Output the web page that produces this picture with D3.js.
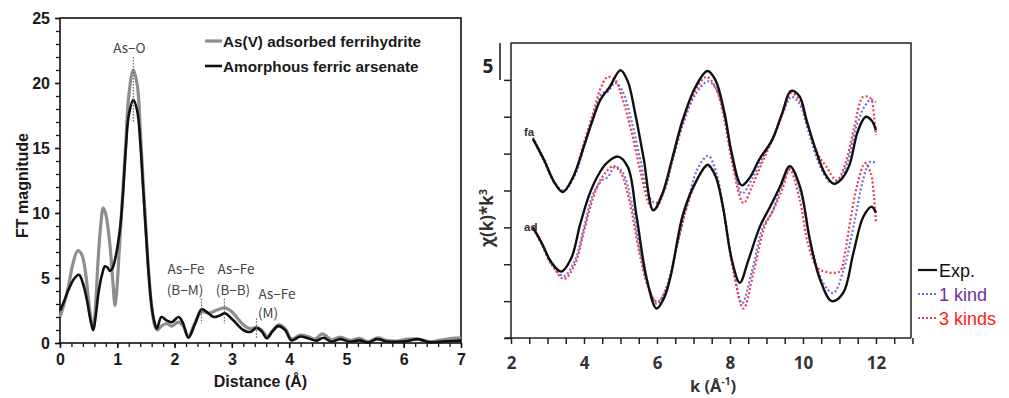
<!DOCTYPE html>
<html>
<head>
<meta charset="utf-8">
<script src="https://cdn.jsdelivr.net/npm/d3@7"></script>
<style>
  html, body { margin: 0; padding: 0; background: #fff; }
  svg { display: block; }
  text { font-family: "Liberation Sans", Arial, sans-serif; }
</style>
</head>
<body>
<svg id="fig" width="1009" height="398"></svg>
<script>
// ---------- Left panel: FT magnitude vs distance ----------
const ftTicksX = [0, 1, 2, 3, 4, 5, 6, 7];
const ftTicksY = [0, 5, 10, 15, 20, 25];
const ftLegend = ["As(V) adsorbed ferrihydrite", "Amorphous ferric arsenate"];

// [distance (Å), FT magnitude]
const ftAdsorbed = [[0,2.0],[0.07,3.0],[0.145,4.3],[0.22,6.0],[0.31,7.1],[0.38,6.8],[0.44,5.6],[0.52,2.5],[0.58,1.0],[0.62,2.8],[0.66,6.0],[0.71,9.0],[0.755,10.4],[0.8,9.9],[0.87,7.6],[0.93,4.3],[0.96,2.9],[0.99,4.0],[1.03,6.8],[1.08,10.5],[1.15,15.5],[1.2,19.0],[1.28,21.0],[1.35,19.8],[1.4,16.5],[1.45,12.5],[1.5,8.8],[1.55,5.3],[1.6,2.8],[1.65,1.4],[1.7,1.0],[1.77,1.3],[1.86,1.5],[1.95,1.3],[2.07,1.6],[2.15,1.3],[2.24,0.5],[2.36,1.6],[2.47,2.4],[2.6,2.3],[2.75,2.55],[2.88,2.7],[3.0,2.4],[3.08,2.0],[3.2,1.4],[3.32,1.1],[3.43,1.2],[3.52,1.0],[3.62,0.5],[3.72,1.0],[3.82,1.4],[3.93,1.1],[4.04,0.3],[4.19,0.6],[4.33,0.5],[4.45,0.3],[4.58,0.7],[4.74,0.25],[4.89,0.45],[5.06,0.2],[5.23,0.35],[5.38,0.1],[5.55,0.4],[5.7,0.2],[5.88,0.15],[6.07,0.3],[6.25,0.3],[6.45,0.1],[6.62,0.2],[6.85,0.35],[7.0,0.4]];
const ftArsenate = [[0,2.5],[0.07,3.2],[0.145,4.05],[0.24,4.9],[0.33,5.25],[0.4,4.6],[0.47,3.3],[0.53,1.8],[0.58,1.0],[0.63,2.3],[0.67,3.8],[0.73,5.2],[0.785,5.9],[0.83,5.8],[0.87,5.55],[0.91,5.7],[0.96,6.4],[1.05,8.9],[1.1,11.5],[1.15,15.0],[1.2,17.5],[1.28,18.7],[1.35,17.8],[1.4,15.5],[1.45,12.0],[1.5,8.5],[1.55,5.2],[1.6,2.8],[1.65,1.6],[1.69,1.1],[1.77,2.0],[1.86,1.74],[1.95,1.6],[2.07,2.0],[2.15,1.5],[2.24,0.4],[2.36,1.5],[2.47,2.6],[2.56,2.4],[2.68,2.0],[2.78,2.1],[2.88,2.28],[3.02,1.77],[3.2,1.0],[3.32,0.85],[3.43,1.15],[3.52,0.9],[3.61,0.36],[3.71,0.9],[3.81,1.3],[3.93,1.0],[4.04,0.2],[4.19,0.5],[4.33,0.36],[4.48,0.18],[4.6,0.4],[4.74,0.1],[4.89,0.3],[5.06,0.1],[5.23,0.2],[5.38,0.03],[5.53,0.3],[5.7,0.12],[5.88,0.1],[6.07,0.15],[6.25,0.3],[6.45,0.05],[6.62,0.1],[6.85,0.15],[7.0,0.2]];

// shell assignments: [distance, top, bottom, label line 1, label line 2]
const ftShells = [
  [1.28, 22, 17, "As\u2212O", ""],
  [2.47, 3.4, 1.5, "As\u2212Fe", "(B\u2212M)"],
  [2.87, 3.4, 1.5, "As\u2212Fe", "(B\u2212B)"],
  [3.43, 1.9, 0.4, "As\u2212Fe", "(M)"]
];

// ---------- Right panel: k^3-weighted EXAFS ----------
const kTicks = [2, 4, 6, 8, 10, 12];
const chiTicks = [0, 5, 10, 15, 20, 25, 30, 35];
const kLegend = ["Exp.", "1 kind", "3 kinds"];

// [k (Å^-1), chi(k)*k^3 with vertical offset]
const faExp = [[2.6,27.0],[2.9,24.2],[3.2,21.0],[3.42,19.8],[3.7,21.8],[4.0,26.0],[4.2,29.0],[4.45,32.3],[4.7,34.0],[5.0,36.3],[5.2,34.8],[5.4,30.5],[5.63,24.5],[5.9,17.3],[6.15,19.6],[6.4,24.0],[6.7,29.5],[7.05,34.0],[7.38,36.2],[7.6,35.0],[7.85,30.5],[8.05,25.0],[8.32,20.7],[8.55,21.8],[8.8,24.2],[9.15,26.8],[9.43,30.5],[9.67,33.5],[9.9,32.8],[10.1,29.5],[10.35,25.5],[10.6,22.3],[10.85,20.9],[11.05,21.5],[11.27,23.4],[11.5,28.0],[11.72,30.0],[11.88,29.5],[12.0,28.2]];
const faOneKind = [[2.6,27.0],[2.9,24.0],[3.2,21.0],[3.45,20.0],[3.75,22.0],[4.0,26.0],[4.25,30.0],[4.5,33.2],[4.65,33.4],[4.85,34.6],[5.05,33.5],[5.3,29.5],[5.55,24.0],[5.8,19.0],[5.97,18.3],[6.2,20.0],[6.45,24.5],[6.75,29.5],[7.05,33.0],[7.4,34.8],[7.65,33.5],[7.9,29.0],[8.1,23.5],[8.33,19.6],[8.6,21.5],[8.9,24.5],[9.2,27.5],[9.45,30.5],[9.68,32.7],[9.9,31.8],[10.15,28.0],[10.45,23.5],[10.75,21.1],[10.95,21.2],[11.2,23.5],[11.45,28.5],[11.7,31.5],[11.85,32.3],[12.0,32.0]];
const faThreeKinds = [[2.6,27.2],[2.9,24.3],[3.2,21.0],[3.42,19.8],[3.7,21.8],[4.0,26.5],[4.25,30.5],[4.45,33.8],[4.65,35.4],[4.85,35.0],[5.05,32.5],[5.3,28.0],[5.55,22.5],[5.8,18.0],[5.95,17.5],[6.2,20.0],[6.45,24.8],[6.75,29.8],[7.05,33.5],[7.35,35.4],[7.6,34.0],[7.85,29.5],[8.05,24.0],[8.37,18.3],[8.6,20.5],[8.9,24.0],[9.2,27.3],[9.45,30.5],[9.66,33.2],[9.9,32.3],[10.15,28.5],[10.4,25.0],[10.63,23.3],[10.92,21.4],[11.15,23.5],[11.4,28.5],[11.65,32.7],[11.85,32.5],[11.95,30.0],[12.0,27.5]];
const adExp = [[2.6,15.0],[2.85,12.8],[3.1,10.3],[3.38,9.0],[3.65,10.8],[3.9,15.5],[4.15,19.5],[4.38,22.0],[4.62,23.7],[4.93,24.6],[5.2,23.2],[5.44,16.5],[5.72,8.0],[5.99,4.0],[6.2,5.5],[6.38,8.5],[6.72,16.9],[7.09,21.4],[7.39,23.5],[7.6,22.0],[7.8,18.0],[8.05,10.6],[8.27,7.5],[8.5,10.5],[8.82,15.1],[9.1,17.8],[9.37,20.5],[9.64,23.3],[9.92,20.5],[10.19,13.3],[10.47,7.9],[10.79,5.0],[11.1,6.1],[11.38,11.5],[11.65,16.4],[11.88,17.8],[12.0,17.0]];
const adOneKind = [[2.6,15.0],[2.85,12.6],[3.1,10.0],[3.45,8.4],[3.75,10.5],[4.0,15.0],[4.25,19.5],[4.5,21.4],[4.65,21.8],[4.85,23.2],[5.05,22.5],[5.3,18.5],[5.55,11.5],[5.8,6.5],[6.0,4.6],[6.25,6.8],[6.5,11.5],[6.8,17.5],[7.1,22.8],[7.4,24.7],[7.62,22.5],[7.85,16.5],[8.1,9.0],[8.33,4.7],[8.6,9.0],[8.9,15.0],[9.15,17.0],[9.4,20.5],[9.66,23.0],[9.95,19.5],[10.25,12.0],[10.55,7.5],[10.83,6.1],[11.1,9.0],[11.4,15.5],[11.65,21.5],[11.84,23.9],[12.0,23.7]];
const adThreeKinds = [[2.6,15.2],[2.85,12.8],[3.1,10.2],[3.45,8.0],[3.75,10.0],[4.0,14.5],[4.25,19.0],[4.5,21.8],[4.8,23.3],[5.0,22.5],[5.25,18.5],[5.5,12.0],[5.75,7.0],[6.0,4.9],[6.25,6.5],[6.5,11.5],[6.8,17.5],[7.1,21.5],[7.38,23.3],[7.6,22.0],[7.85,16.5],[8.1,9.0],[8.37,4.0],[8.65,9.0],[8.95,15.1],[9.2,17.5],[9.42,20.0],[9.64,22.8],[9.9,19.0],[10.15,12.5],[10.4,9.5],[10.6,9.0],[11.0,9.0],[11.15,11.5],[11.3,16.0],[11.5,21.0],[11.7,23.7],[11.85,22.5],[11.95,19.0],[12.0,15.6]];

const svg = d3.select("#fig");

// ================= Left panel =================
(function () {
  const L = 60, R = 461, T = 18, B = 343;
  const x = d3.scaleLinear().domain([0, 7]).range([L, R]);
  const y = d3.scaleLinear().domain([0, 25]).range([B, T]);
  const g = svg.append("g");

  // frame
  g.append("rect").attr("x", L).attr("y", T).attr("width", R - L).attr("height", B - T)
    .attr("fill", "none").attr("stroke", "#111").attr("stroke-width", 1.6);

  // minor ticks
  g.append("g").attr("transform", `translate(0,${B})`)
    .call(d3.axisBottom(x).tickValues(d3.range(0, 7.001, 0.2)).tickSize(4).tickFormat(""))
    .call(a => a.select(".domain").remove())
    .call(a => a.selectAll("line").attr("stroke", "#111").attr("stroke-width", 1.3));
  g.append("g").attr("transform", `translate(${L},0)`)
    .call(d3.axisLeft(y).tickValues(d3.range(0, 25.001, 1)).tickSize(4).tickFormat(""))
    .call(a => a.select(".domain").remove())
    .call(a => a.selectAll("line").attr("stroke", "#111").attr("stroke-width", 1.3));

  // major ticks with labels
  const tickText = a => a.selectAll("text").attr("font-size", 16).attr("font-weight", "bold")
    .attr("fill", "#1a1a1a").style("font-family", "Liberation Sans, Arial, sans-serif");
  g.append("g").attr("transform", `translate(0,${B})`)
    .call(d3.axisBottom(x).tickValues(ftTicksX).tickSize(5).tickPadding(6).tickFormat(d3.format("d")))
    .call(a => a.select(".domain").remove())
    .call(a => a.selectAll("line").attr("stroke", "#111").attr("stroke-width", 1.5))
    .call(tickText);
  g.append("g").attr("transform", `translate(${L},0)`)
    .call(d3.axisLeft(y).tickValues(ftTicksY).tickSize(5).tickPadding(5).tickFormat(d3.format("d")))
    .call(a => a.select(".domain").remove())
    .call(a => a.selectAll("line").attr("stroke", "#111").attr("stroke-width", 1.5))
    .call(tickText);

  // axis titles
  g.append("text").attr("x", x(3.5)).attr("y", 387).attr("text-anchor", "middle")
    .attr("font-size", 16).attr("font-weight", "bold").attr("fill", "#1a1a1a").text("Distance (\u00C5)");
  g.append("text").attr("transform", `translate(28,${(T + B) / 2 + 5}) rotate(-90)`)
    .attr("text-anchor", "middle").attr("font-size", 16).attr("font-weight", "bold")
    .attr("fill", "#1a1a1a").text("FT magnitude");

  // curves
  const line = d3.line().x(d => x(d[0])).y(d => y(Math.max(0, d[1])))
    .curve(d3.curveCatmullRom.alpha(0.5));
  g.append("path").datum(ftAdsorbed).attr("d", line).attr("fill", "none")
    .attr("stroke", "#8e8e8e").attr("stroke-width", 3.2).attr("stroke-linejoin", "round");
  g.append("path").datum(ftArsenate).attr("d", line).attr("fill", "none")
    .attr("stroke", "#111").attr("stroke-width", 2.6).attr("stroke-linejoin", "round");

  // shell markers
  ftShells.forEach(s => {
    g.append("line").attr("x1", x(s[0])).attr("x2", x(s[0])).attr("y1", y(s[1])).attr("y2", y(s[2]))
      .attr("stroke", "#666").attr("stroke-width", 1.2).attr("stroke-dasharray", "1.5,1.5");
  });
  const lab = (tx, ty, t) => g.append("text").attr("x", tx).attr("y", ty).attr("text-anchor", "middle")
    .attr("font-size", 13.5).attr("fill", "#444")
    .style("font-family", "'Noto Sans CJK JP', 'Noto Sans', sans-serif").text(t);
  lab(x(1.28) - 4, 53, ftShells[0][3]);
  lab(186, 274, ftShells[1][3]); lab(185, 295, ftShells[1][4]);
  lab(236, 274, ftShells[2][3]); lab(233, 295, ftShells[2][4]);
  lab(277, 299, ftShells[3][3]); lab(268, 318, ftShells[3][4]);

  // legend
  const lg = [["#8e8e8e", 3.2, 41], ["#111", 2.6, 66]];
  lg.forEach((l, i) => {
    g.append("line").attr("x1", 205).attr("x2", 222).attr("y1", l[2]).attr("y2", l[2])
      .attr("stroke", l[0]).attr("stroke-width", l[1]);
    g.append("text").attr("x", 223).attr("y", l[2] + 5.5).attr("font-size", 15.3)
      .attr("font-weight", "bold").attr("fill", "#1a1a1a").text(ftLegend[i]);
  });
})();

// ================= Right panel =================
(function () {
  const L = 511, R = 911, T = 43, B = 338;
  const x = d3.scaleLinear().domain([2, 12.96]).range([L, R]);
  const y = d3.scaleLinear().domain([0, 40]).range([B, T]);
  const g = svg.append("g");

  // frame
  g.append("path").attr("d", `M${L},${B}V${T}H${R}V${B}`)
    .attr("fill", "none").attr("stroke", "#222").attr("stroke-width", 1.5);

  // x axis (ticks every 0.5)
  g.append("g").attr("transform", `translate(0,${B})`)
    .call(d3.axisBottom(x).tickValues(d3.range(2, 13.001, 0.5)).tickSize(6).tickFormat(""))
    .call(a => a.select(".domain").attr("d", `M${L - 6},0H${R}`).attr("stroke", "#222").attr("stroke-width", 1.5))
    .call(a => a.selectAll("line").attr("stroke", "#222").attr("stroke-width", 1.5));
  g.append("g").attr("transform", `translate(0,${B})`)
    .call(d3.axisBottom(x).tickValues(kTicks).tickSize(0).tickPadding(19).tickFormat(d3.format("d")))
    .call(a => a.select(".domain").remove())
    .call(a => a.selectAll("text").attr("font-size", 17).attr("font-weight", "bold")
      .attr("fill", "#333").style("font-family", "'Open Sans', 'Liberation Sans', sans-serif"));

  // y axis ticks (no labels)
  g.append("g").attr("transform", `translate(${L},0)`)
    .call(d3.axisLeft(y).tickValues(chiTicks).tickSize(7).tickFormat(""))
    .call(a => a.select(".domain").remove())
    .call(a => a.selectAll("line").attr("stroke", "#222").attr("stroke-width", 1.5));

  // scale bar: 5 units
  g.append("line").attr("x1", 500).attr("x2", 500).attr("y1", y(40)).attr("y2", y(35))
    .attr("stroke", "#222").attr("stroke-width", 1.6);
  g.append("text").attr("x", 488).attr("y", 73).attr("text-anchor", "middle")
    .attr("font-size", 19).attr("font-weight", "bold").attr("fill", "#222")
    .style("font-family", "'Open Sans', 'Liberation Sans', sans-serif").text("5");

  // axis titles
  const xt = g.append("text").attr("x", 713).attr("y", 392).attr("text-anchor", "middle")
    .attr("font-size", 16.5).attr("font-weight", "bold").attr("fill", "#333")
    .style("font-family", "'Open Sans', 'Liberation Sans', sans-serif");
  xt.append("tspan").text("k (\u00C5");
  xt.append("tspan").attr("dy", -7).attr("font-size", 10).text("-1");
  xt.append("tspan").attr("dy", 7).text(")");
  const yt = g.append("text").attr("transform", `translate(493,218) rotate(-90)`)
    .attr("text-anchor", "middle").attr("font-size", 17).attr("font-weight", "bold").attr("fill", "#333")
    .style("font-family", "'Open Sans', 'Liberation Sans', sans-serif");
  yt.append("tspan").text("\u03C7(k)*k");
  yt.append("tspan").attr("dy", -6).attr("font-size", 11).text("3");

  // sample labels
  g.append("text").attr("x", 524).attr("y", 136).attr("font-size", 11.5).attr("font-weight", "bold")
    .attr("fill", "#333").text("fa");
  g.append("text").attr("x", 524).attr("y", 231).attr("font-size", 11.5).attr("font-weight", "bold")
    .attr("fill", "#333").text("ad");

  const line = d3.line().x(d => x(d[0])).y(d => y(d[1])).curve(d3.curveCatmullRom.alpha(0.5));
  const blue = "#6f6fd6", red = "#ec3a4f";
  const dotted = (data, col) => g.append("path").datum(data).attr("d", line).attr("fill", "none")
    .attr("stroke", col).attr("stroke-width", 2.2).attr("stroke-dasharray", "2,2.2");
  dotted(faOneKind, blue); dotted(adOneKind, blue);
  dotted(faThreeKinds, red); dotted(adThreeKinds, red);
  [faExp, adExp].forEach(d => g.append("path").datum(d).attr("d", line).attr("fill", "none")
    .attr("stroke", "#111").attr("stroke-width", 2.4));

  // legend
  const items = [["#111", null, "#111", 270], [blue, "2,2", "#7030a0", 294], [red, "2,2", "#ff1a1a", 318]];
  items.forEach((it, i) => {
    g.append("line").attr("x1", 918).attr("x2", 937).attr("y1", it[3]).attr("y2", it[3])
      .attr("stroke", it[0]).attr("stroke-width", 2.2).attr("stroke-dasharray", it[1]);
    g.append("text").attr("x", 939).attr("y", it[3] + 7).attr("font-size", 18)
      .attr("fill", it[2]).text(kLegend[i]);
  });
})();
</script>
</body>
</html>
